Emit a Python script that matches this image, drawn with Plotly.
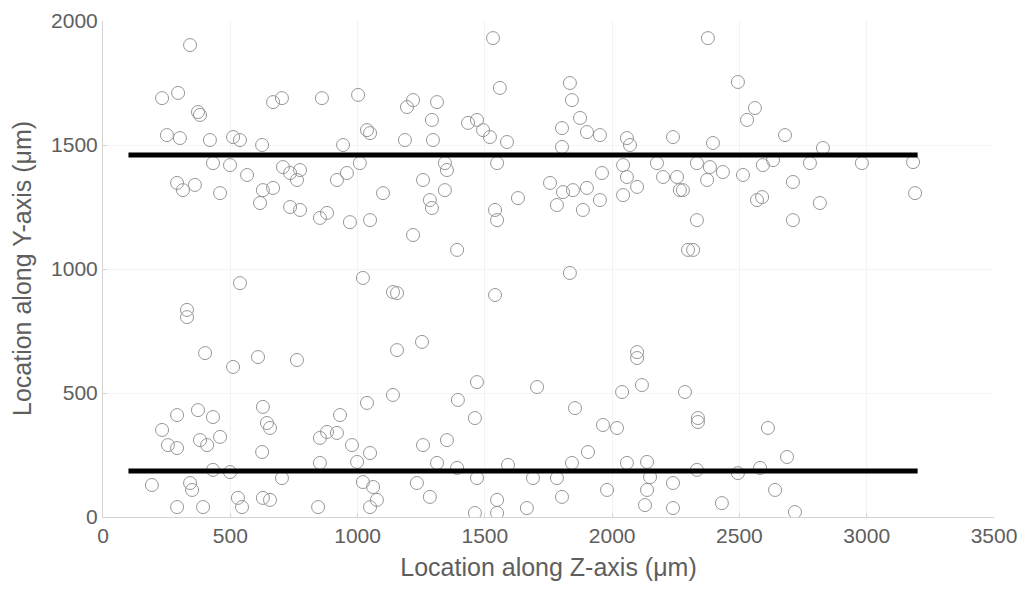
import plotly.graph_objects as go

# Scatter data: location along Z-axis (um) and along Y-axis (um)
z_um = [342,232,295,373,381,251,302,420,511,538,625,432,499,566,291,361,314,460,628,617,668,707,735,774,762,668,703,860,1002,943,1037,1049,1009,958,919,735,774,852,880,970,1049,1100,538,1021,1139,
        1532,1559,1194,1218,1312,1292,1186,1296,1434,1469,1493,1520,1587,1343,1351,1257,1548,1343,1284,1292,1630,1540,1548,1218,1391,1834,1842,1874,1803,1901,1952,1803,2058,2070,2239,1960,1756,1807,1846,1901,1783,1885,1952,2043,2058,2098,2043,2176,2200,2255,2266,1834,1155,1540,2298,
        2376,2494,2561,2530,2679,2396,2333,2384,2435,2373,2514,2592,2632,2278,2569,2589,2710,2777,2816,2710,2333,2318,2981,3182,3190,2828,
        330,330,401,511,609,762,1155,1139,1037,291,373,432,232,255,291,381,409,460,628,644,656,625,931,919,880,852,978,1049,852,432,499,192,342,350,291,393,530,546,628,656,845,1021,1061,1076,1049,703,998,
        1253,2098,2098,1469,1705,1394,1461,1854,2039,2117,2286,1964,2019,1257,1351,1905,1591,1312,1391,1469,1233,1284,1689,1783,1548,1803,1665,1461,1548,1842,1980,2058,2137,2149,2137,2129,2239,2239,
        2337,2337,2612,2687,2333,2494,2581,2640,2431,2718]
y_um = [1903,1689,1710,1633,1621,1540,1528,1520,1532,1520,1500,1427,1419,1379,1347,1339,1318,1306,1318,1266,1327,1411,1387,1399,1359,1673,1689,1689,1702,1500,1560,1548,1427,1387,1359,1250,1238,1206,1226,1189,1197,1306,943,964,907,
        1931,1730,1653,1681,1673,1601,1520,1520,1589,1601,1560,1532,1512,1427,1399,1359,1427,1318,1278,1246,1286,1238,1197,1137,1077,1750,1681,1609,1568,1552,1540,1492,1528,1500,1532,1387,1347,1310,1318,1327,1258,1238,1278,1419,1371,1331,1298,1427,1371,1371,1318,984,903,895,1077,
        1931,1754,1649,1601,1540,1508,1427,1411,1391,1359,1379,1419,1439,1318,1278,1290,1351,1427,1266,1197,1197,1077,1427,1431,1306,1488,
        835,806,661,605,645,633,673,492,460,411,431,403,351,290,278,310,290,323,444,379,359,262,411,339,343,319,290,258,218,190,181,129,137,109,40,40,77,40,77,69,40,141,121,69,40,157,222,
        706,641,665,544,524,472,399,439,504,532,504,371,359,290,310,262,210,218,198,157,137,81,157,157,69,81,36,16,16,218,109,218,222,161,109,48,137,36,
        383,399,359,242,190,177,198,109,56,20]

# Horizontal reference lines
line_z = [100, 3200]
upper_y = 1460
lower_y = 185

x_ticks = [0, 500, 1000, 1500, 2000, 2500, 3000, 3500]
y_ticks = [0, 500, 1000, 1500, 2000]

FAMILY = "Liberation Sans, Arial, sans-serif"
GRAY = "#5e5e5e"

fig = go.Figure()
fig.add_trace(go.Scatter(
    x=z_um, y=y_um, mode="markers",
    marker=dict(symbol="circle-open", size=13, color="#969696", line=dict(width=1, color="#969696")),
    showlegend=False, hoverinfo="skip"))
for yv in (upper_y, lower_y):
    fig.add_trace(go.Scatter(
        x=line_z, y=[yv, yv], mode="lines",
        line=dict(color="black", width=5), showlegend=False, hoverinfo="skip"))

tick_font = dict(family=FAMILY, size=21, color=GRAY)
fig.update_layout(
    width=1012, height=573,
    margin=dict(l=95, r=26, t=13, b=64),
    plot_bgcolor="white", paper_bgcolor="white",
    font=tick_font,
    annotations=[dict(
        text="Location along Y-axis (μm)", textangle=-90,
        xref="paper", yref="paper", x=0, y=0.5, xshift=-81,
        xanchor="center", yanchor="middle", showarrow=False,
        font=dict(family=FAMILY, size=25, color=GRAY))],
)
fig.update_xaxes(
    range=[0, 3500], tickvals=x_ticks, ticktext=[str(v) for v in x_ticks],
    showgrid=True, gridcolor="#f2f2f2", gridwidth=1,
    showline=True, linecolor="#d4d4d4", linewidth=1,
    ticks="inside", ticklen=4, tickcolor="#d4d4d4",
    zeroline=False, tickfont=tick_font, automargin=False,
    title=dict(text="Location along Z-axis (μm)", font=dict(family=FAMILY, size=25, color=GRAY), standoff=15),
)
fig.update_yaxes(
    range=[0, 2000], tickvals=y_ticks, ticktext=[str(v) for v in y_ticks],
    showgrid=True, gridcolor="#f5f5f5", gridwidth=1,
    showline=True, linecolor="#d4d4d4", linewidth=1,
    ticks="inside", ticklen=4, tickcolor="#d4d4d4",
    zeroline=False, tickfont=tick_font, automargin=False,
)

fig.write_html("out.html")
